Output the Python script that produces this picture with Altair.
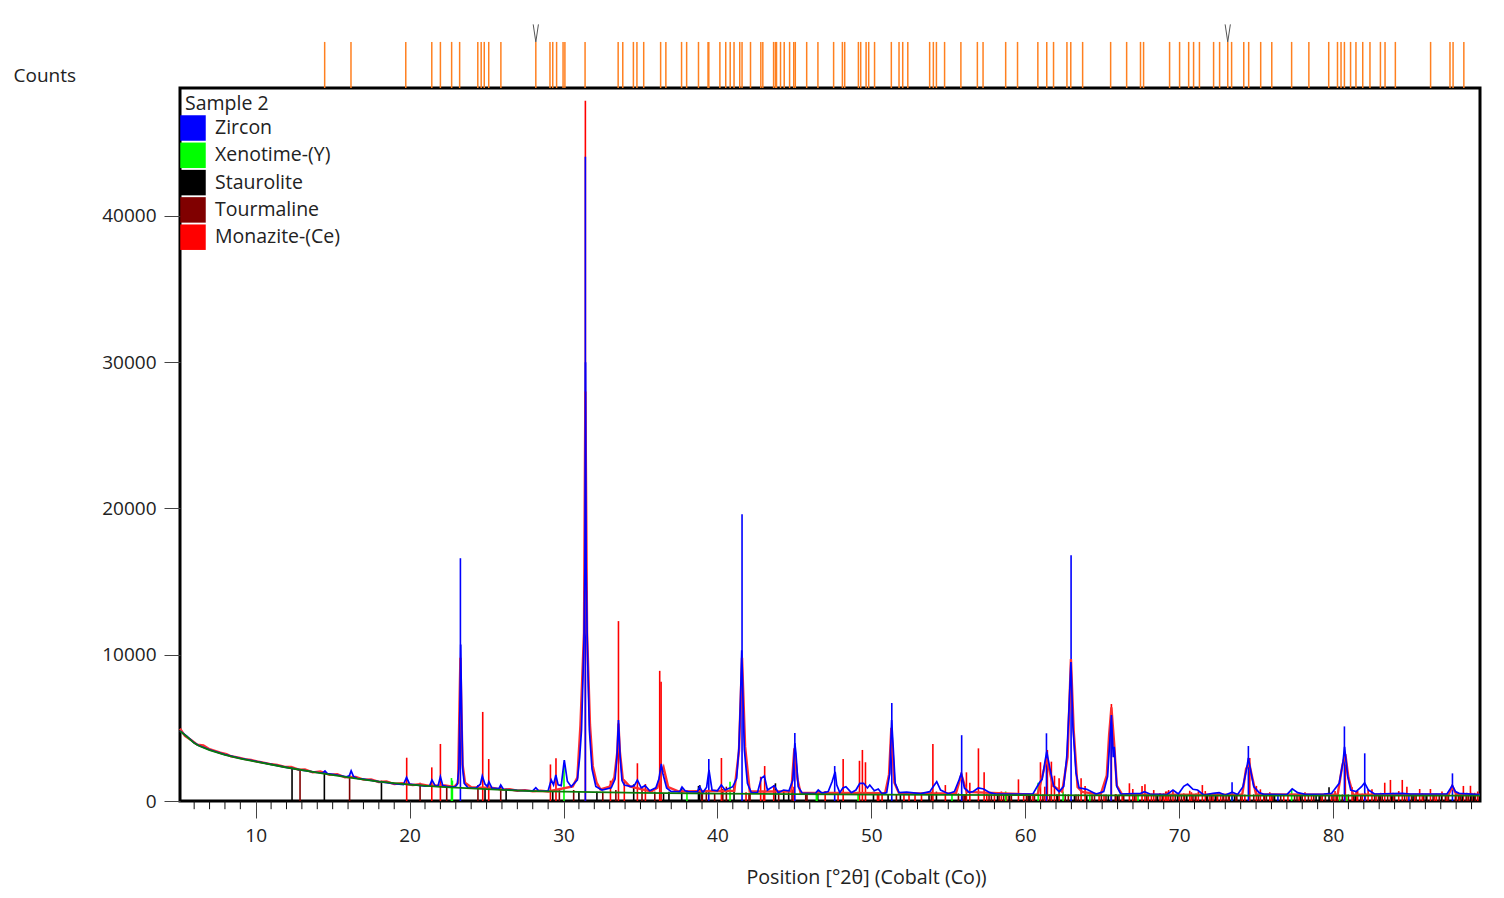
import altair as alt

FONT = "Open Sans"
TEXT = "#222222"

x_domain = [5.08, 89.55]
y_domain = [0, 48750]
x_labels = [10, 20, 30, 40, 50, 60, 70, 80]
y_labels = [0, 10000, 20000, 30000, 40000]
minor_positions = [6, 7, 8, 9, 11, 12, 13, 14, 15, 16, 17, 18, 19, 21, 22, 23, 24, 25, 26, 27, 28, 29,
                   31, 32, 33, 34, 35, 36, 37, 38, 39, 41, 42, 43, 44, 45, 46, 47, 48, 49,
                   51, 52, 53, 54, 55, 56, 57, 58, 59, 61, 62, 63, 64, 65, 66, 67, 68, 69,
                   71, 72, 73, 74, 75, 76, 77, 78, 79, 81, 82, 83, 84, 85, 86, 87, 88, 89]
minor_tick_end = -560

phase_names = ["Zircon", "Xenotime-(Y)", "Staurolite", "Tourmaline", "Monazite-(Ce)"]
phase_colors = ["#0000ff", "#00ff00", "#000000", "#800000", "#ff0000"]

zircon = [(23.3, 16600), (31.42, 44050), (39.44, 2870), (41.6, 19600), (45.03, 4650), (47.62, 2390),
          (51.33, 6700), (55.87, 4500), (61.38, 4630), (62.98, 16800), (65.58, 5900), (73.44, 1280),
          (74.5, 3760), (76.42, 420), (80.74, 5100), (82.06, 3260), (84.93, 420), (87.76, 1890)]
xenotime = [(22.72, 1570), (22.78, 1400), (30.03, 2390), (38.02, 640), (40.82, 1320), (46.43, 520), (46.47, 520),
            (49.14, 640), (55.24, 550), (58.73, 650), (60.84, 1250), (62.46, 650), (64.2, 450),
            (67.33, 550), (73.42, 450), (77.31, 830), (80.43, 450), (80.9, 450)]
staurolite = [(12.36, 2300), (14.46, 2000), (18.17, 1390), (24.9, 960), (26.27, 840), (29.3, 750), (31.0, 640),
              (32.17, 640), (34.56, 1140), (36.5, 550), (36.85, 640), (37.68, 950), (38.77, 1030), (38.85, 1090),
              (41.08, 980), (43.77, 1210), (44.31, 750), (44.63, 640), (46.52, 750), (50.14, 640), (51.09, 420),
              (51.89, 550), (53.75, 550), (54.23, 640), (58.2, 420), (58.95, 420), (60.25, 420), (62.1, 420),
              (63.2, 420), (64.0, 420), (65.4, 420), (66.0, 420), (68.6, 420), (69.9, 420), (70.5, 420),
              (71.8, 420), (72.35, 420), (73.6, 420), (76.2, 420), (77.9, 420), (78.9, 420), (79.1, 420),
              (79.74, 940), (81.45, 420), (83.05, 420), (83.8, 420), (85.2, 420), (86.05, 420), (87.05, 420),
              (88.4, 420), (88.95, 420), (89.15, 420)]
tourmaline = [(12.88, 2120), (16.1, 1780), (20.68, 1250), (22.41, 1090), (24.44, 1090), (25.92, 1050),
              (29.73, 820), (30.66, 750), (32.55, 640), (33.4, 750), (35.1, 950), (35.93, 640), (38.98, 600),
              (39.02, 550), (39.28, 640), (39.82, 550), (40.58, 980), (40.35, 820), (42.05, 520), (42.12, 520),
              (43.98, 550), (44.85, 780), (45.74, 420), (45.82, 420), (51.63, 420), (53.9, 640), (55.66, 520),
              (55.95, 450), (56.05, 450), (56.12, 450), (57.65, 450), (57.8, 450), (58.3, 450), (58.6, 450),
              (58.99, 450), (59.1, 450), (60.08, 450), (60.18, 450), (60.34, 450), (60.6, 450), (61.15, 450),
              (61.6, 450), (62.05, 450), (62.6, 450), (62.8, 450), (63.3, 450), (63.45, 450), (64.34, 450),
              (64.5, 450), (64.95, 450), (65.25, 450), (65.85, 450), (66.1, 450), (66.4, 450), (67.1, 450),
              (67.9, 450), (68.5, 450), (68.9, 450), (69.45, 450), (69.75, 450), (70.15, 450), (70.36, 450),
              (70.9, 450), (71.05, 450), (71.85, 450), (72.1, 450), (72.4, 450), (72.85, 450), (73.05, 450),
              (73.25, 450), (73.75, 450), (74.0, 450), (74.85, 450), (75.15, 450), (75.55, 450), (75.67, 450),
              (76.1, 450), (76.6, 450), (77.5, 450), (77.66, 450), (78.0, 450), (78.4, 450), (78.75, 450),
              (79.2, 450), (79.5, 450), (80.0, 450), (80.25, 450), (80.6, 450), (81.0, 450), (81.35, 450),
              (81.8, 450), (82.7, 450), (82.95, 450), (83.2, 450), (83.55, 450), (83.85, 450), (84.0, 450),
              (84.65, 450), (85.1, 450), (85.4, 450), (85.9, 450), (86.1, 450), (86.5, 450), (86.9, 450),
              (87.3, 450), (87.5, 450), (87.95, 450), (88.15, 450), (88.3, 450), (88.65, 450), (88.8, 450),
              (89.1, 450), (89.25, 450)]
monazite = [(19.81, 2960), (21.44, 2300), (22.0, 3900), (24.75, 6090), (25.14, 2870), (29.15, 2500), (29.51, 2920),
            (31.42, 47880), (33.05, 1390), (33.57, 12300), (33.95, 1320), (34.8, 2580), (35.32, 1160),
            (36.25, 8900), (36.34, 8150), (40.26, 2940), (41.86, 600), (42.81, 1660), (43.07, 2390),
            (43.0, 600), (43.66, 1090), (44.97, 980), (47.0, 680), (47.84, 550), (48.17, 2870), (49.23, 2750),
            (49.42, 3490), (49.62, 2650), (50.4, 600), (50.48, 600), (50.7, 600), (52.12, 420), (52.45, 420),
            (52.84, 500), (53.26, 500), (54.0, 3900), (54.81, 1090), (56.18, 1960), (56.4, 1250), (56.96, 3600),
            (57.33, 1960), (58.45, 650), (59.56, 1480), (60.99, 2650), (61.27, 980), (61.44, 3490), (61.7, 2690),
            (61.9, 1730), (62.2, 1550), (63.63, 1550), (63.89, 1030), (64.8, 450), (65.12, 450), (65.6, 6630),
            (66.77, 1210), (66.99, 820), (67.59, 1030), (67.78, 1140), (68.35, 750), (68.76, 550), (69.13, 650),
            (69.21, 650), (69.32, 750), (69.6, 750), (70.69, 700), (71.25, 650), (71.51, 1090), (71.7, 680),
            (72.7, 500), (73.25, 520), (74.27, 450), (74.59, 2940), (75.02, 1030), (75.28, 800), (75.89, 600),
            (77.07, 450), (78.18, 600), (80.13, 680), (80.8, 2500), (81.24, 940), (81.5, 680), (81.6, 680),
            (82.28, 800), (82.53, 800), (83.36, 1250), (83.73, 1440), (84.27, 680), (84.5, 1440), (84.8, 980),
            (85.63, 820), (86.33, 820), (86.72, 500), (87.08, 650), (88.47, 1030), (88.93, 1040), (89.4, 650),
            (57.5, 480), (58.0, 460), (58.8, 500), (59.9, 460), (60.5, 470), (65.9, 480), (66.3, 480), (67.2, 520),
            (68.0, 480), (68.2, 500), (69.0, 520), (70.0, 480), (70.3, 520), (70.8, 600), (71.1, 520), (72.0, 520),
            (72.2, 480), (72.5, 520), (72.9, 480), (73.2, 480), (73.7, 480), (74.1, 520), (75.5, 480), (76.0, 480),
            (76.8, 470), (77.8, 470), (78.6, 470), (79.3, 480), (79.9, 500), (80.3, 560), (81.9, 500), (82.1, 560),
            (82.8, 520), (83.1, 560), (83.9, 560), (85.3, 480), (85.8, 520), (86.6, 480), (87.4, 520), (88.0, 560),
            (88.2, 520), (88.7, 560), (89.0, 560), (89.2, 560)]

calc_x = [5.08, 5.5, 6, 6.3, 7, 8, 9, 10, 11, 12, 13, 14, 14.35, 14.5, 14.65, 15, 15.9, 16.08, 16.2, 16.35, 16.6, 17, 18, 19,
          19.6, 19.8, 20.0, 20.5, 21, 21.3, 21.45, 21.65, 21.85, 22.0, 22.15, 22.6, 22.95, 23.1, 23.2, 23.26, 23.32, 23.38, 23.45,
          23.55, 23.8, 24.3, 24.6, 24.72, 24.9, 25.05, 25.15, 25.35, 25.8, 25.92, 26.1, 27, 28, 28.2, 28.4, 29.0, 29.2, 29.35, 29.5,
          29.65, 29.85, 30.05, 30.25, 30.5, 30.9, 31.05, 31.17, 31.33, 31.39, 31.43, 31.47, 31.54, 31.68, 31.85, 32.1, 32.5, 33.1,
          33.35, 33.47, 33.57, 33.68, 33.8, 33.95, 34.4, 34.6, 34.8, 35.05, 35.3, 35.6, 36.0, 36.2, 36.35, 36.45, 36.7, 37, 37.55,
          37.7, 37.9, 38.1, 38.7, 38.85, 39.05, 39.3, 39.45, 39.65, 40.0, 40.25, 40.5, 41.0, 41.25, 41.4, 41.5, 41.58, 41.66, 41.75,
          41.95, 42.2, 42.6, 42.85, 43.05, 43.25, 43.7, 43.95, 44.3, 44.65, 44.9, 45.03, 45.1, 45.25, 45.5, 46.35, 46.55, 46.8, 47.2,
          47.45, 47.65, 47.75, 47.95, 48.15, 48.35, 48.7, 49.0, 49.25, 49.5, 49.75, 49.9, 50.2, 50.45, 50.7, 51.0, 51.2, 51.32, 51.42,
          51.55, 51.8, 52.3, 53.2, 53.8, 54.05, 54.25, 54.5, 55.0, 55.4, 55.7, 55.85, 56.05, 56.35, 56.6, 56.95, 57.3, 57.7, 58.1, 60.5,
          60.9, 61.1, 61.3, 61.4, 61.6, 61.85, 62.2, 62.5, 62.7, 62.85, 62.97, 63.1, 63.3, 63.5, 64.0, 64.6, 65.1, 65.35, 65.5, 65.6,
          65.72, 65.78, 65.95, 66.2, 67.5, 67.75, 68.1, 69.2, 69.6, 69.95, 70.3, 70.55, 70.9, 71.2, 71.6, 72.2, 72.6, 73.0, 73.45, 73.8,
          74.15, 74.4, 74.5, 74.7, 74.85, 75.2, 75.5, 77.0, 77.35, 77.7, 78.2, 79.4, 79.9, 80.4, 80.65, 80.75, 80.95, 81.15, 81.5, 81.85,
          82.05, 82.3, 82.7, 84.5, 85, 86.9, 87.4, 87.6, 87.75, 87.95, 88.2, 89.55]
calc_y = [4800, 4450, 3980, 3800, 3500, 3170, 2920, 2720, 2500, 2300, 2110, 1950, 1900, 2050, 1870, 1820, 1660, 1720, 2060, 1680, 1540, 1490, 1330, 1190,
          1130, 1620, 1150, 1080, 1020, 1040, 1440, 1060, 1040, 1660, 1060, 960, 960, 1150, 2200, 6000, 10700, 6000, 2200,
          1200, 900, 880, 1150, 1710, 1150, 1000, 1320, 880, 840, 1090, 790, 720, 690, 910, 680, 700, 1440, 1100, 1780,
          1100, 1050, 2800, 1350, 980, 1440, 3000, 4850, 11000, 16000, 30000, 16000, 11000, 4850, 2200, 1000, 750, 900,
          1500, 3000, 5530, 3000, 1400, 1090, 980, 1050, 1436, 900, 1050, 700, 900, 1500, 2530, 1900, 890, 640, 640,
          960, 700, 640, 620, 980, 560, 950, 2120, 750, 700, 1090, 750, 980, 1550, 3700, 7000, 10300, 7000, 3500,
          1210, 570, 570, 1550, 1710, 750, 1050, 570, 750, 700, 1436, 3960, 3280, 980, 547, 500, 750, 540, 640,
          1320, 2000, 1100, 570, 890, 980, 570, 750, 1210, 1210, 890, 1090, 700, 820, 500, 570, 1900, 5540, 3700,
          1210, 570, 600, 500, 640, 1030, 1320, 750, 500, 640, 1436, 1900, 890, 600, 640, 890, 820, 570, 480, 480,
          1210, 1500, 2800, 3370, 2250, 1020, 640, 1000, 3030, 6450, 9500, 5080, 1900, 900, 800, 480, 640, 1660, 4170, 5880,
          3000, 3710, 1000, 480, 520, 640, 480, 440, 750, 480, 1000, 1160, 800, 750, 410, 520, 570, 410, 600, 440,
          980, 2300, 2940, 1780, 980, 570, 450, 440, 830, 570, 450, 480, 520, 1210, 2690, 3700, 1710, 750, 640, 980,
          1250, 750, 480, 520, 480, 480, 480, 800, 1090, 640, 520, 430]
bg_x = [5.08, 5.5, 6, 6.3, 7, 8, 9, 10, 12, 14, 16, 18, 20, 22, 24, 26, 28, 30, 32, 35, 40, 45, 50, 55, 60, 65, 70, 75, 80, 85, 89.55]
bg_y = [4780, 4430, 3960, 3780, 3480, 3150, 2900, 2700, 2290, 1940, 1620, 1330, 1120, 970, 860, 760, 680, 640, 600, 560, 510, 470, 440, 420, 400, 385, 375, 370, 365, 365, 365]
obs_x = [5.08, 5.4, 5.8, 6.2, 6.6, 7.0, 7.3, 7.7, 8.1, 8.4, 8.9, 9.3, 9.7, 10.1, 10.5, 10.9, 11.4, 11.9, 12.3, 12.8, 13.2, 13.7, 14.2, 14.8, 15.3,
         15.8, 16.5, 17, 17.5, 18, 18.5, 19, 19.5, 20.2, 20.7, 21.2, 22.3, 22.9, 23.15, 23.24, 23.3, 23.36, 23.44, 23.6, 24, 24.5, 25.4, 26,
         26.5, 27, 27.5, 28, 28.5, 29, 30.6, 30.9, 31.1, 31.33, 31.42, 31.53, 31.72, 31.9, 32.15, 32.4, 33, 33.3, 33.5, 33.57, 33.66, 33.85,
         34.3, 35.7, 36.1, 36.3, 36.5, 36.8, 37.5, 41.1, 41.4, 41.6, 41.8, 42.1, 44.8, 45.0, 45.2, 45.4, 50.9, 51.15, 51.3, 51.5, 51.8, 55.5, 55.85,
         56.2, 60.8, 61.4, 61.8, 62.4, 62.75, 62.97, 63.15, 63.4, 63.7, 64.9, 65.3, 65.45, 65.6, 65.78, 65.95, 66.3, 74.1, 74.35, 74.55, 74.75, 75, 80.3,
         80.6, 80.8, 81, 81.3, 87.5, 87.75, 88, 89.55]
obs_y = [4950, 4450, 4180, 3850, 3800, 3540, 3440, 3300, 3200, 3060, 2970, 2860, 2800, 2700, 2620, 2540, 2460, 2330, 2330, 2140, 2160, 1960, 2020, 1790, 1830,
         1620, 1650, 1460, 1470, 1300, 1330, 1160, 1210, 1090, 1140, 1040, 1060, 970, 1250, 6500, 9800, 6500, 2500, 1250, 950, 920, 900, 780,
         800, 700, 740, 660, 700, 650, 1000, 1600, 5200, 11500, 28000, 11500, 5200, 2400, 1250, 800, 980, 1600, 3400, 5300, 3400, 1500,
         1000, 650, 900, 1800, 2300, 950, 650, 700, 3400, 9800, 3700, 650, 650, 3600, 1500, 560, 540, 1800, 5000, 1250, 520, 520, 1800,
         620, 430, 2900, 1050, 640, 3000, 9700, 4800, 950, 620, 430, 1750, 4500, 6400, 3900, 1050, 430, 430, 2200, 2600, 1600, 450, 430,
         2400, 3200, 1600, 450, 430, 1000, 480, 420]

pick_marks = [14.48, 16.19, 19.75, 21.44, 22.0, 22.73, 23.25, 24.43, 24.65, 24.85, 25.14, 25.93, 28.2, 29.12, 29.3, 29.55,
              29.97, 30.09, 31.4, 33.55, 33.85, 34.54, 34.77, 35.21, 36.31, 36.65, 37.67, 38.0, 38.77, 39.39, 39.44, 40.16,
              40.54, 40.83, 41.08, 41.45, 41.6, 42.15, 42.82, 42.95, 43.65, 43.77, 43.84, 44.1, 44.34, 44.69, 44.96, 45.06,
              45.8, 46.53, 47.55, 48.12, 48.27, 49.16, 49.31, 49.66, 49.83, 50.21, 51.3, 51.8, 52.04, 52.37, 53.79, 54.03,
              54.23, 54.76, 55.82, 56.89, 57.26, 58.73, 59.5, 60.82, 61.4, 61.84, 62.71, 62.96, 63.73, 65.55, 66.59, 67.49,
              67.69, 69.38, 70.03, 70.62, 70.94, 71.32, 72.24, 72.63, 73.16, 73.41, 74.2, 74.52, 75.3, 76.02, 77.31, 78.43,
              79.72, 80.29, 80.52, 80.74, 81.14, 81.49, 81.93, 82.4, 83.08, 83.38, 84.05, 86.34, 87.6, 87.8, 88.5]
pick_low, pick_high = 48750, 51900
v_marks = [("a", 28.03, 53100), ("a", 28.2, 51900), ("a", 28.37, 53100),
           ("b", 72.99, 53100), ("b", 73.16, 51900), ("b", 73.33, 53100)]
legend_title = "Sample 2"
x_title = "Position [°2θ] (Cobalt (Co))"
y_title = "Counts"

x_scale = alt.Scale(domain=x_domain, nice=False, zero=False)
y_scale = alt.Scale(domain=y_domain, nice=False, zero=False)
x_axis = alt.Axis(
    values=x_labels, format="d", grid=False, domain=False, tickSize=17, tickWidth=1, tickColor="#444444",
    labelFont=FONT, labelFontSize=19, labelColor=TEXT, labelPadding=8, labelOverlap=False,
    titleFont=FONT, titleFontSize=19.7, titleFontWeight="normal", titleColor=TEXT,
    titleX=686, titleY=76, titleAlign="center", titleBaseline="middle")
y_axis = alt.Axis(
    values=y_labels, format="d", grid=False, domain=False, tickSize=16, tickWidth=1, tickColor="#444444",
    labelFont=FONT, labelFontSize=19, labelColor=TEXT, labelPadding=8,
    titleFont=FONT, titleFontSize=19, titleFontWeight="normal", titleColor=TEXT, titleAngle=0,
    titleAlign="left", titleBaseline="middle", titleX=-167, titleY=-13)
X = alt.X("x:Q", scale=x_scale, axis=x_axis, title=x_title)
Y = alt.Y("y:Q", scale=y_scale, axis=y_axis, title=y_title)

stick_rows = []
for name, rows in zip(reversed(phase_names), [monazite, tourmaline, staurolite, xenotime, zircon]):
    stick_rows += [{"phase": name, "x": a, "y": b, "y0": 0} for a, b in rows]

color_scale = alt.Scale(domain=phase_names, range=phase_colors)

swatches = alt.Chart(alt.Data(values=[{"phase": p, "x": x_labels[0], "y": 0} for p in phase_names])).mark_square(
    size=0, filled=True, opacity=1).encode(
    x=X, y=Y,
    color=alt.Color("phase:N", scale=color_scale, sort=phase_names,
                    legend=alt.Legend(orient="none", legendX=0, legendY=27, title=None, padding=0,
                                      symbolType="square", symbolSize=650, symbolStrokeWidth=0, symbolOffset=0,
                                      symbolOpacity=1, rowPadding=1.3, labelFont=FONT, labelFontSize=19.5,
                                      labelColor=TEXT, labelOffset=9)),
)

minor = alt.Chart(alt.Data(values=[{"x": a, "y": 0, "y0": minor_tick_end} for a in minor_positions])).mark_rule(
    color="#111111", strokeWidth=1, clip=False).encode(x=X, y=Y, y2="y0:Q")

sticks = alt.Chart(alt.Data(values=stick_rows)).mark_rule(strokeWidth=1.6).encode(
    x=X, y=Y, y2="y0:Q",
    color=alt.Color("phase:N", scale=color_scale, sort=phase_names, legend=None),
)

def line(xs, ys, color, width):
    rows = [{"x": a, "y": b, "i": i} for i, (a, b) in enumerate(zip(xs, ys))]
    return alt.Chart(alt.Data(values=rows)).mark_line(color=color, strokeWidth=width, interpolate="linear").encode(
        x=X, y=Y, order="i:Q")

obs = line(obs_x, obs_y, "#ff3030", 2.4)
calc = line(calc_x, calc_y, "#0000ff", 1.7)
bg = line(bg_x, bg_y, "#0a7a0a", 1.8)

picks = alt.Chart(alt.Data(values=[{"x": a, "y": pick_low, "y0": pick_high} for a in pick_marks])).mark_rule(
    color="#ff8020", strokeWidth=1.5, clip=False).encode(x=X, y=Y, y2="y0:Q")
vees = alt.Chart(alt.Data(values=[{"g": g, "x": a, "y": b} for g, a, b in v_marks])).mark_line(
    color="#555555", strokeWidth=1, clip=False).encode(x=X, y=Y, detail="g:N")
sample = alt.Chart(alt.Data(values=[{"t": legend_title}])).mark_text(
    font=FONT, fontSize=19.5, color=TEXT, align="left", baseline="middle").encode(
    text="t:N", x=alt.value(5), y=alt.value(16))

chart = alt.layer(swatches, minor, sticks, obs, calc, bg, picks, vees, sample).properties(
    width=1300, height=713,
    autosize=alt.AutoSizeParams(type="none"),
    padding={"left": 172, "top": 80, "right": 8, "bottom": 89},
    background="white",
).configure_view(stroke="black", strokeWidth=3)

chart.save("out.html", embed_options={"renderer": "svg", "actions": False})
